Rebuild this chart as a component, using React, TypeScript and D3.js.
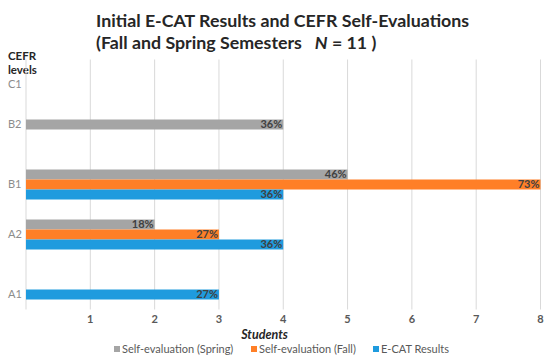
import React from "react";
import * as d3 from "d3";

const levels = ["C1", "B2", "B1", "A2", "A1"];
const seriesNames = ["Self-evaluation (Spring)", "Self-evaluation (Fall)", "E-CAT Results"];
const seriesColors = ["#A5A5A5", "#FF7F27", "#1F9BDE"];
const springValues = [0, 4, 5, 2, 0];
const fallValues = [0, 0, 8, 3, 0];
const ecatValues = [0, 0, 4, 4, 3];
const springLabels = ["", "36%", "46%", "18%", ""];
const fallLabels = ["", "", "73%", "27%", ""];
const ecatLabels = ["", "", "36%", "36%", "27%"];
const xTicks = [1, 2, 3, 4, 5, 6, 7, 8];

const W = 550;
const H = 361;
const font = "Lato, 'Open Sans', sans-serif";

export default function App() {
  const x = d3.scaleLinear().domain([0, 8]).range([26, 540.5]);
  const y = d3.scaleBand().domain(levels).range([59.5, 309.5]).paddingInner(0.4).paddingOuter(0.2);
  const sub = d3.scaleBand().domain(["0", "1", "2"]).range([0, y.bandwidth()]);

  const allValues = [springValues, fallValues, ecatValues];
  const allLabels = [springLabels, fallLabels, ecatLabels];

  // category label position: center of non-empty bars in the group
  const labelY = levels.map((lv, i) => {
    const idx = [0, 1, 2].filter((s) => allValues[s][i] > 0);
    const base = y(lv)!;
    if (idx.length === 0) return base + y.bandwidth() / 2;
    const top = base + sub(String(idx[0]))!;
    const bot = base + sub(String(idx[idx.length - 1]))! + sub.bandwidth();
    return (top + bot) / 2;
  });

  const legendX = [114, 251, 373];

  return (
    <svg width={W} height={H} style={{ position: "absolute", left: 0, top: 0, background: "#fff" }} fontFamily={font}>
      <rect width={W} height={H} fill="#fff" />
      {/* title */}
      <text x={96} y={26.5} fontSize={17.8} fontWeight="bold" fill="#262626">
        Initial E-CAT Results and CEFR Self-Evaluations
      </text>
      <text x={96} y={48.5} fontSize={17.8} fontWeight="bold" fill="#262626">
        (Fall and Spring Semesters{"\u00a0\u00a0\u00a0"}
        <tspan fontStyle="italic">N</tspan> = 11 )
      </text>
      {/* y axis title */}
      <text x={8} y={60} fontSize={11.5} fontWeight="bold" fill="#262626">CEFR</text>
      <text x={8} y={74} fontSize={11.5} fontWeight="bold" fill="#262626">levels</text>
      {/* gridlines */}
      {[0, ...xTicks].map((t) => (
        <line key={t} x1={x(t)} x2={x(t)} y1={59.5} y2={309.5} stroke="#D9D9D9" strokeWidth={1} />
      ))}
      {/* bars */}
      {levels.map((lv, i) =>
        [0, 1, 2].map((s) => {
          const v = allValues[s][i];
          if (!v) return null;
          const by = y(lv)! + sub(String(s))!;
          return (
            <g key={lv + s}>
              <rect x={x(0)} y={by} width={x(v) - x(0)} height={sub.bandwidth()} fill={seriesColors[s]} />
              <text x={x(v) - 1} y={by + sub.bandwidth() / 2} dy="0.36em" textAnchor="end" fontSize={11} fontWeight="bold" fill="#404040">
                {allLabels[s][i]}
              </text>
            </g>
          );
        })
      )}
      {/* category labels */}
      {levels.map((lv, i) => (
        <text key={lv} x={8} y={labelY[i]} dy="0.36em" fontSize={11} fill="#8C8C8C">
          {lv}
        </text>
      ))}
      {/* x tick labels */}
      {xTicks.map((t) => (
        <text key={t} x={x(t)} y={322.5} textAnchor="middle" fontSize={11} fontWeight="bold" fill="#595959">
          {t}
        </text>
      ))}
      <text x={264.5} y={338.5} textAnchor="middle" fontSize={12.5} fontWeight="bold" fontStyle="italic" fill="#262626">
        Students
      </text>
      {/* legend */}
      {seriesNames.map((n, s) => (
        <g key={n}>
          <rect x={legendX[s]} y={346} width={6} height={6} fill={seriesColors[s]} />
          <text x={legendX[s] + 8} y={352.5} fontSize={11} fill="#595959">{n}</text>
        </g>
      ))}
    </svg>
  );
}
